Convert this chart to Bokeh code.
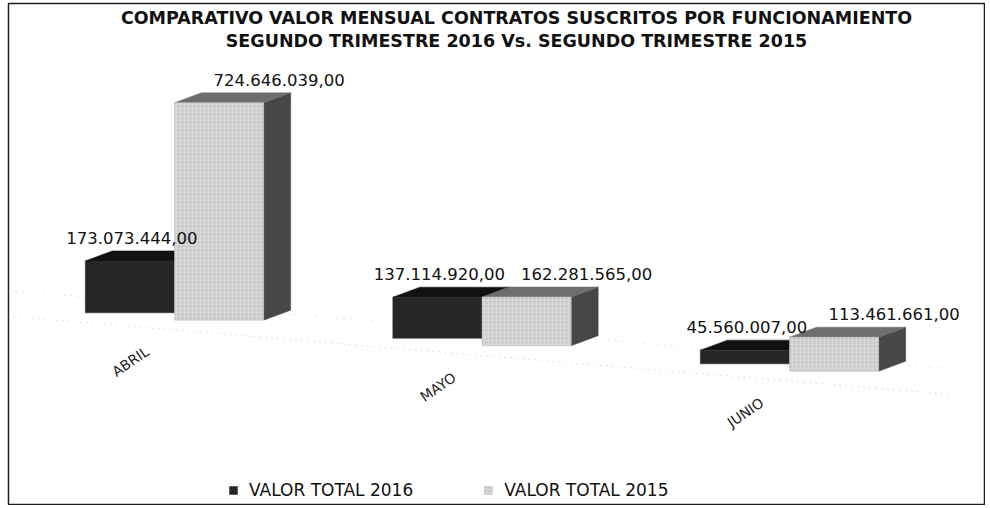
from bokeh.plotting import figure
from bokeh.models import Range1d, Label, Legend, LegendItem, ColumnDataSource
from bokeh.core.properties import value
from bokeh.embed import file_html
from bokeh.resources import INLINE

# ---------------- data ----------------
title_line1 = "COMPARATIVO VALOR MENSUAL CONTRATOS SUSCRITOS POR FUNCIONAMIENTO"
title_line2 = "SEGUNDO TRIMESTRE 2016 Vs. SEGUNDO TRIMESTRE 2015"
months = ["ABRIL", "MAYO", "JUNIO"]
series_2016_name = "VALOR TOTAL 2016"
series_2015_name = "VALOR TOTAL 2015"
valor_2016 = [173073444.00, 137114920.00, 45560007.00]
valor_2015 = [724646039.00, 162281565.00, 113461661.00]


def fmt(v):
    s = f"{v:,.2f}"
    return s.replace(",", "X").replace(".", ",").replace("X", ".")


# ---------------- layout constants ----------------
FW, FH = 977, 502        # frame size
ML, MT = 8, 3            # frame offset inside the canvas
UNIT_PX = 307.5          # px per category step
VAL_PX = 0.30e-6         # px per peso
X_START = -166 / UNIT_PX
Y_START = -189 / VAL_PX
FLOOR_SLOPE = -85e6      # pseudo-perspective: floor drops to the right
HALF = 0.145
BAR_W = 0.29
DX = 27 / UNIT_PX        # 3D depth offset (x)
DY = 10 / VAL_PX         # 3D depth offset (y)

p = figure(width=FW + ML, height=FH + MT, output_backend="svg", toolbar_location=None,
           x_range=Range1d(X_START, X_START + FW / UNIT_PX),
           y_range=Range1d(Y_START, Y_START + FH / VAL_PX),
           x_axis_location=None, y_axis_location=None,
           min_border=0, min_border_left=ML, min_border_right=0,
           min_border_top=MT, min_border_bottom=0)
p.xgrid.visible = False
p.ygrid.visible = False
p.outline_line_color = "#1e1e1e"
p.outline_line_width = 1.5
p.background_fill_color = "white"
p.border_fill_color = "white"

# faint floor lines
fx = [X_START, X_START + FW / UNIT_PX - 0.12]
p.line(fx, [FLOOR_SLOPE * x - 45e6 for x in fx], line_color="#c8c8c8",
       line_dash="1 5", line_width=1)
p.line(fx, [FLOOR_SLOPE * x + 40e6 for x in fx], line_color="#d2d2d2",
       line_dash="1 6", line_width=1)


def bar_geom(values, off):
    xs = [i + off for i in range(len(values))]
    bottoms = [FLOOR_SLOPE * x for x in xs]
    tops = [b + v for b, v in zip(bottoms, values)]
    top_x, top_y, side_x, side_y = [], [], [], []
    for x, b, t in zip(xs, bottoms, tops):
        x0, x1 = x - BAR_W / 2, x + BAR_W / 2
        top_x.append([x0, x1, x1 + DX, x0 + DX])
        top_y.append([t, t, t + DY, t + DY])
        side_x.append([x1, x1 + DX, x1 + DX, x1])
        side_y.append([b, b + DY, t + DY, t])
    return xs, bottoms, tops, top_x, top_y, side_x, side_y


renderers = {}
label_jobs = []
for name, vals, off, front, top_c, side_c in [
        (series_2016_name, valor_2016, -HALF, "#262626", "#111111", "#3a3a3a"),
        (series_2015_name, valor_2015, HALF, "#d6d6d6", "#6e6e6e", "#474747")]:
    xs, bottoms, tops, tx, ty, sx, sy = bar_geom(vals, off)
    p.patches(sx, sy, fill_color=side_c, line_color=side_c, line_width=0.5)
    p.patches(tx, ty, fill_color=top_c, line_color=top_c, line_width=0.5)
    src = ColumnDataSource(dict(x=xs, bottom=bottoms, top=tops))
    if name == series_2015_name:
        r = p.vbar(x="x", bottom="bottom", top="top", width=BAR_W, source=src,
                   fill_color=front, line_color="#bdbdbd", line_width=0.5,
                   hatch_pattern="dot", hatch_color="#9c9c9c", hatch_alpha=0.45,
                   hatch_scale=4)
    else:
        r = p.vbar(x="x", bottom="bottom", top="top", width=BAR_W, source=src,
                   fill_color=front, line_color=front, line_width=0.5)
    renderers[name] = r
    lx_off = 2 if name == series_2016_name else 60
    label_jobs.append((xs, tops, [fmt(v) for v in vals], lx_off))

# value labels drawn on top of every bar
for xs, tops, texts, lx_off in label_jobs:
    p.text(xs, tops, text=texts, x_offset=lx_off, y_offset=-17,
           text_align="center", text_baseline="bottom",
           text_font=value("DejaVu Sans"), text_font_size=value("16.5px"),
           text_color="#111111")

# category labels (rotated)
cx = list(range(len(months)))
p.text(cx, [FLOOR_SLOPE * x for x in cx], text=months, angle=0.6,
       x_offset=-44, y_offset=45, text_align="center", text_baseline="middle",
       text_font=value("DejaVu Sans"), text_font_size=value("14px"),
       text_color="#222222")

# title
for txt, yy in [(title_line1, 488), (title_line2, 465)]:
    p.add_layout(Label(x=508, y=yy, x_units="screen", y_units="screen", text=txt,
                       text_align="center", text_baseline="middle",
                       text_font="DejaVu Sans", text_font_style="bold",
                       text_font_size="17.5px", text_color="#111111"))

legend = Legend(items=[LegendItem(label=series_2016_name, renderers=[renderers[series_2016_name]]),
                       LegendItem(label=series_2015_name, renderers=[renderers[series_2015_name]])],
                orientation="horizontal", location=(217, 2),
                border_line_alpha=0, background_fill_alpha=0,
                label_text_font="DejaVu Sans", label_text_font_size="17px",
                label_text_color="#111111",
                glyph_width=10, glyph_height=10, spacing=70, padding=3,
                label_standoff=11)
p.add_layout(legend)

open("out.html", "w").write(file_html(p, INLINE))
